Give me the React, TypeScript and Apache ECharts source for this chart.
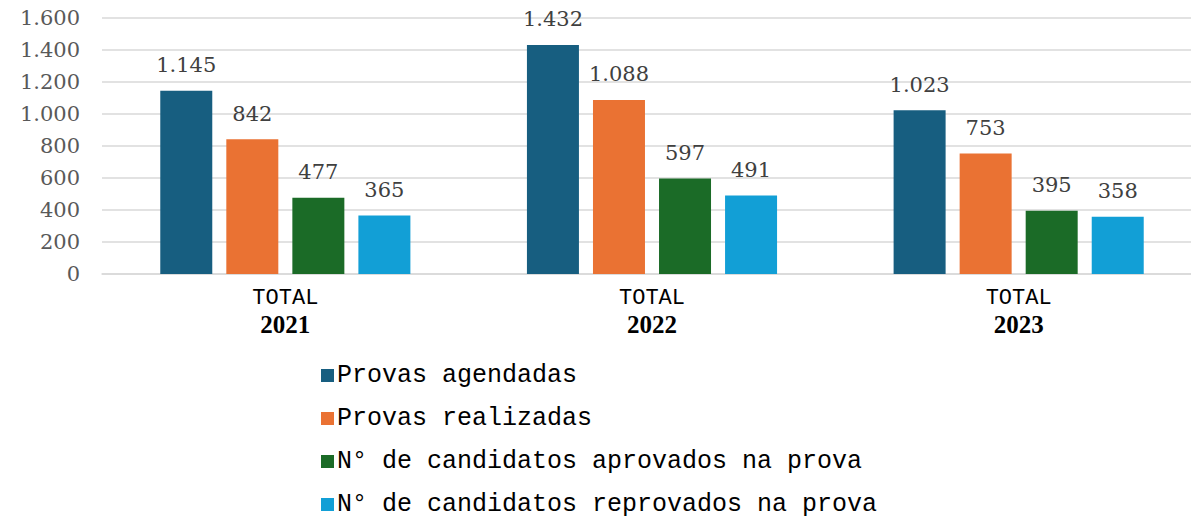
import React, { useEffect, useRef } from "react";
import * as echarts from "echarts";

const categories = ["2021", "2022", "2023"];
const categoryPrefix = "TOTAL";
const seriesNames = [
  "Provas agendadas",
  "Provas realizadas",
  "N° de candidatos aprovados na prova",
  "N° de candidatos reprovados na prova",
];
const provasAgendadas = [1145, 1432, 1023];
const provasRealizadas = [842, 1088, 753];
const aprovados = [477, 597, 395];
const reprovados = [365, 491, 358];
const seriesColors = ["#175E80", "#EA7233", "#1B6B27", "#129FD6"];
const yTicks = { min: 0, max: 1600, interval: 200 };

const fmt = (v: number) => {
  const s = String(Math.round(v));
  return s.replace(/\B(?=(\d{3})+(?!\d))/g, ".");
};

export default function App() {
  const ref = useRef<HTMLDivElement>(null);
  useEffect(() => {
    document.body.style.margin = "0";
    document.body.style.overflow = "hidden";
    const chart = echarts.init(ref.current!, null, { renderer: "svg" });
    const values = [provasAgendadas, provasRealizadas, aprovados, reprovados];
    chart.setOption({
      animation: false,
      backgroundColor: "#ffffff",
      grid: { left: 102, top: 18, width: 1100, height: 256, containLabel: false },
      legend: {
        orient: "vertical",
        left: 316,
        top: 358,
        height: 200,
        itemWidth: 13,
        itemHeight: 13,
        itemGap: 18,
        icon: "rect",
        data: seriesNames,
        textStyle: {
          fontFamily: "Liberation Mono",
          fontSize: 25,
          color: "#000000",
          padding: [0, 0, 0, -2],
        },
      },
      xAxis: {
        type: "category",
        data: categories,
        axisLine: { show: true, lineStyle: { color: "#d9d9d9", width: 1.5 } },
        axisTick: { show: false },
        axisLabel: {
          margin: 12,
          formatter: (v: string) => `{a|${categoryPrefix}}\n{b|${v}}`,
          rich: {
            a: {
              fontFamily: "Liberation Mono",
              fontSize: 22,
              color: "#000000",
              lineHeight: 24,
            },
            b: {
              fontFamily: "Liberation Serif",
              fontWeight: "bold",
              fontSize: 25,
              color: "#000000",
              lineHeight: 28,
            },
          },
        },
      },
      yAxis: {
        type: "value",
        min: yTicks.min,
        max: yTicks.max,
        interval: yTicks.interval,
        axisLine: { show: false },
        axisTick: { show: false },
        splitLine: { lineStyle: { color: "#d9d9d9", width: 1.5 } },
        axisLabel: {
          margin: 22,
          fontFamily: "DejaVu Serif",
          fontSize: 21,
          color: "#595959",
          formatter: (v: number) => fmt(v),
        },
      },
      series: seriesNames.map((name, i) => ({
        name,
        type: "bar",
        data: values[i],
        barWidth: 52,
        barGap: "27%",
        barCategoryGap: "31%",
        itemStyle: { color: seriesColors[i] },
        label: {
          show: true,
          position: "top",
          distance: 15,
          fontFamily: "DejaVu Serif",
          fontSize: 21,
          color: "#404040",
          formatter: (p: any) => fmt(p.value),
        },
      })),
    });
    return () => chart.dispose();
  }, []);
  return (
    <div
      ref={ref}
      style={{ position: "absolute", left: 0, top: 0, width: 1215, height: 525 }}
    />
  );
}
